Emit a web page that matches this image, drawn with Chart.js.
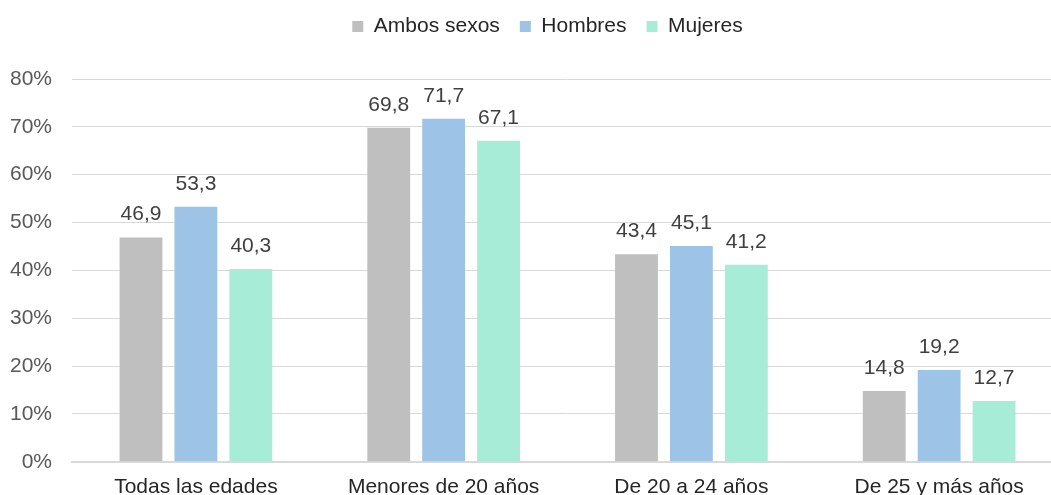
<!DOCTYPE html>
<html>
<head>
<meta charset="utf-8">
<script src="https://cdn.jsdelivr.net/npm/chart.js@4"></script>
<style>
  html, body { margin: 0; padding: 0; background: #fff; overflow: hidden; }
  #wrap { width: 1094px; height: 513px; }
</style>
</head>
<body>
<div id="wrap"><canvas id="myChart"></canvas></div>
<script>
// chart data
const categories = ['Todas las edades', 'Menores de 20 años', 'De 20 a 24 años', 'De 25 y más años'];
const ambosSexos = [46.9, 69.8, 43.4, 14.8];
const hombres = [53.3, 71.7, 45.1, 19.2];
const mujeres = [40.3, 67.1, 41.2, 12.7];
const yTicks = [0, 10, 20, 30, 40, 50, 60, 70, 80];

const FONT = '"Liberation Sans", Arial, sans-serif';

// draws the value above each bar, with a decimal comma
const valueLabels = {
    id: 'valueLabels',
    afterDatasetsDraw(chart) {
        const ctx = chart.ctx;
        ctx.save();
        ctx.font = '21px ' + FONT;
        ctx.fillStyle = '#404040';
        ctx.textAlign = 'center';
        ctx.textBaseline = 'alphabetic';
        chart.data.datasets.forEach((ds, i) => {
            chart.getDatasetMeta(i).data.forEach((bar, j) => {
                ctx.fillText(ds.data[j].toFixed(1).replace('.', ','), bar.x, bar.y - 17);
            });
        });
        ctx.restore();
    }
};

// more room under the legend, and legend nudged right
const legendGap = {
    id: 'legendGap',
    afterInit(chart) {
        const fit = chart.legend.fit;
        chart.legend.fit = function () {
            fit.call(this);
            this.height += 32;
        };
    },
    afterLayout(chart) {
        chart.legend.left += 21;
        chart.legend.right += 21;
    }
};

function initChart() {
    const ctx = document.getElementById('myChart').getContext('2d');
    return new Chart(ctx, {
        type: 'bar',
        data: {
            labels: categories,
            datasets: [
                { label: 'Ambos sexos', data: ambosSexos, backgroundColor: '#bfbfbf' },
                { label: 'Hombres', data: hombres, backgroundColor: '#9dc3e6' },
                { label: 'Mujeres', data: mujeres, backgroundColor: '#a6ecd6' },
            ],
        },
        options: {
            responsive: true,
            maintainAspectRatio: false,
            animation: false,
            datasets: { bar: { categoryPercentage: 0.665, barPercentage: 0.78 } },
            layout: { padding: { left: -10, right: 31, top: -4, bottom: 0 } },
            plugins: {
                tooltip: { enabled: false },
                legend: {
                    position: 'top',
                    labels: {
                        boxWidth: 11,
                        boxHeight: 11,
                        padding: 20,
                        color: '#262626',
                        font: { family: FONT, size: 21 },
                    },
                },
            },
            scales: {
                x: {
                    grid: { display: false, drawTicks: false },
                    border: { color: '#d9d9d9', width: 2 },
                    ticks: { color: '#262626', padding: 13, font: { family: FONT, size: 21 } },
                },
                y: {
                    min: 0,
                    max: 80,
                    afterBuildTicks(axis) { axis.ticks = yTicks.map(v => ({ value: v })); },
                    grid: { color: '#d9d9d9', lineWidth: 1, drawTicks: false },
                    border: { display: false },
                    ticks: {
                        color: '#595959',
                        padding: 20,
                        font: { family: FONT, size: 21 },
                        callback: v => v + '%',
                    },
                },
            },
        },
        plugins: [valueLabels, legendGap],
    });
}

const chart = initChart();
</script>
</body>
</html>
